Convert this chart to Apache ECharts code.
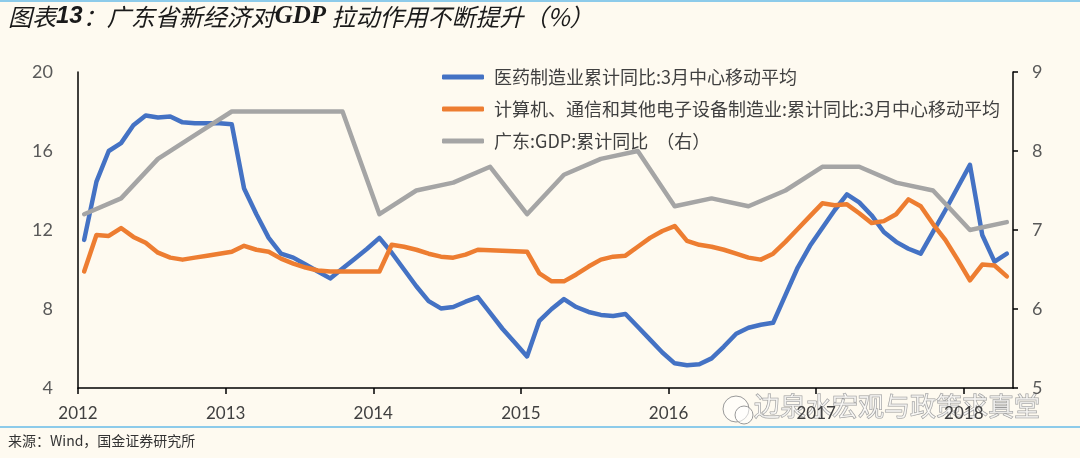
<!DOCTYPE html>
<html><head><meta charset="utf-8">
<script src="https://cdn.jsdelivr.net/npm/echarts@6/dist/echarts.min.js"></script>
<style>html,body{margin:0;padding:0;background:#fefaf0;}#c{width:1080px;height:458px;}</style>
</head><body><div id="c"></div>
<script>
// ---- data ----
const startYear = 2012, startMonth = 3, monthCount = 76; // monthly categories 2012-03 .. 2018-06
const yearLabels = ['2012','2013','2014','2015','2016','2017','2018'];
const pharma = [11.5,14.45,16.0,16.4,17.3,17.8,17.7,17.75,17.45,17.4,17.4,17.4,
  17.35,14.1,12.8,11.6,10.8,10.6,10.25,9.9,9.55,10.05,10.55,11.05,
  11.6,10.85,10.0,9.15,8.4,8.03,8.1,8.37,8.6,7.8,7.0,6.3,
  5.6,7.4,8.0,8.5,8.1,7.85,7.7,7.65,7.75,7.1,6.45,5.8,
  5.25,5.15,5.2,5.5,6.1,6.75,7.05,7.2,7.3,8.7,10.1,11.2,
  12.1,13.0,13.8,13.4,12.75,11.9,11.4,11.05,10.8,11.9,13.0,14.15,
  15.3,11.75,10.4,10.8];
const electronics = [9.9,11.75,11.7,12.1,11.65,11.35,10.85,10.6,10.5,10.6,10.7,10.8,
  10.9,11.2,11.0,10.9,10.55,10.3,10.1,9.95,9.9,9.9,9.9,9.9,
  9.9,11.25,11.15,11.0,10.8,10.65,10.6,10.75,11.0,10.98,10.95,10.93,
  10.9,9.8,9.4,9.4,9.75,10.15,10.5,10.65,10.7,11.15,11.6,11.95,
  12.2,11.45,11.25,11.15,11.0,10.8,10.6,10.5,10.8,11.4,12.05,12.7,
  13.35,13.25,13.3,12.85,12.35,12.45,12.8,13.55,13.2,12.3,11.5,10.5,
  9.45,10.25,10.2,9.65];
const gdpQuarters = ['2012-03','2012-06','2012-09','2012-12','2013-03','2013-06','2013-09','2013-12',
  '2014-03','2014-06','2014-09','2014-12','2015-03','2015-06','2015-09','2015-12',
  '2016-03','2016-06','2016-09','2016-12','2017-03','2017-06','2017-09','2017-12',
  '2018-03','2018-06'];
const gdp = [7.2,7.4,7.9,8.2, 8.5,8.5,8.5,8.5, 7.2,7.5,7.6,7.8, 7.2,7.7,7.9,8.0,
  7.3,7.4,7.3,7.5, 7.8,7.8,7.6,7.5, 7.0,7.1];
const seriesNames = ['医药制造业累计同比:3月中心移动平均',
  '计算机、通信和其他电子设备制造业:累计同比:3月中心移动平均',
  '广东:GDP:累计同比  （右）'];

const months = [];
for (let i = 0; i < monthCount; i++) {
  const m = startMonth - 1 + i;
  const y = startYear + Math.floor(m / 12);
  const mm = (m % 12) + 1;
  months.push(y + '-' + (mm < 10 ? '0' + mm : mm));
}

const chart = echarts.init(document.getElementById('c'), null, {renderer: 'canvas'});
const lineStyle = (c) => ({color: c, width: 4.5, cap: 'round', join: 'round'});
chart.setOption({
  backgroundColor: '#fefaf0',
  animation: false,
  grid: {left: 78, right: 67, top: 72, bottom: 70},
  legend: {
    orient: 'vertical', left: 437, top: 63, itemGap: 14,
    itemWidth: 42, itemHeight: 5, icon: 'roundRect',
    textStyle: {fontFamily: 'Noto Sans CJK SC', fontSize: 18, color: '#404040', padding: [0,0,0,5]},
    data: seriesNames
  },
  xAxis: [{
    type: 'category', data: months, boundaryGap: true,
    axisLine: {show: false}, axisTick: {show: false}, axisLabel: {show: false}
  }, {
    type: 'value', min: 0, max: monthCount, interval: 12, position: 'bottom',
    axisLine: {show: true, lineStyle: {color: '#000', width: 1.5}},
    axisTick: {show: true, inside: false, length: 6, lineStyle: {color: '#000', width: 1.5}},
    splitLine: {show: false},
    axisLabel: {
      margin: 17, color: '#404040', fontSize: 17, fontFamily: 'Liberation Sans Narrow, Lato, sans-serif',
      showMaxLabel: false,
      formatter: (v) => (v % 12 === 0 ? yearLabels[v / 12] || '' : '')
    }
  }],
  yAxis: [{
    type: 'value', min: 4, max: 20, interval: 4,
    axisLine: {show: true, lineStyle: {color: '#000', width: 1.5}},
    axisTick: {show: false}, splitLine: {show: false},
    axisLabel: {margin: 25, color: '#595959', fontSize: 18, fontFamily: 'Lato'}
  }, {
    type: 'value', min: 5, max: 9, interval: 1, position: 'right',
    axisLine: {show: true, lineStyle: {color: '#000', width: 1.5}},
    axisTick: {show: true, inside: false, length: 5, lineStyle: {color: '#000', width: 1.5}},
    splitLine: {show: false},
    axisLabel: {margin: 19, color: '#595959', fontSize: 18, fontFamily: 'Lato'}
  }],
  series: [{
    name: seriesNames[0], type: 'line', xAxisIndex: 0, yAxisIndex: 0,
    data: pharma, showSymbol: false, lineStyle: lineStyle('#4472C4'), itemStyle: {color: '#4472C4'}, z: 2
  }, {
    name: seriesNames[1], type: 'line', xAxisIndex: 0, yAxisIndex: 0,
    data: electronics, showSymbol: false, lineStyle: lineStyle('#ED7D31'), itemStyle: {color: '#ED7D31'}, z: 3
  }, {
    name: seriesNames[2], type: 'line', xAxisIndex: 0, yAxisIndex: 1,
    data: gdpQuarters.map((q, i) => [q, gdp[i]]), showSymbol: false,
    lineStyle: lineStyle('#A5A5A5'), itemStyle: {color: '#A5A5A5'}, z: 4
  }],
  graphic: [
    {type: 'rect', shape: {x: 0, y: 0, width: 1080, height: 2}, style: {fill: '#8dcbea'}, silent: true},
    {type: 'rect', shape: {x: 0, y: 426, width: 1080, height: 2}, style: {fill: '#8dcbea'}, silent: true},
    {type: 'text', left: 8, top: 4, silent: true, style: {
      text: '{a|图表}{b|13}{a|：广东省新经济对}{c|GDP}{a| 拉动作用不断提升（%）}',
      rich: {
        a: {fontFamily: 'Noto Sans CJK SC', fontStyle: 'italic', fontSize: 24, fill: '#1a1a1a'},
        b: {fontFamily: 'Liberation Sans', fontStyle: 'italic', fontWeight: 'bold', fontSize: 24, fill: '#1a1a1a'},
        c: {fontFamily: 'Liberation Serif', fontStyle: 'italic', fontWeight: 'bold', fontSize: 25, fill: '#1a1a1a'}
      }
    }},
    {type: 'text', left: 8, top: 434, silent: true, style: {
      text: '来源：Wind，国金证券研究所', fontFamily: 'Noto Sans CJK SC', fontSize: 14, fill: '#333'
    }},
    {type: 'group', silent: true, children: [
      {type: 'circle', shape: {cx: 736, cy: 409, r: 13}, style: {fill: 'rgba(255,255,255,0.55)', stroke: '#9a9a9a', lineWidth: 1}},
      {type: 'circle', shape: {cx: 744, cy: 415, r: 9}, style: {fill: 'rgba(255,255,255,0.55)', stroke: '#9a9a9a', lineWidth: 1}},
      {type: 'text', x: 754, y: 393, style: {
        text: '边泉水宏观与政策求真堂', fontFamily: 'Noto Sans CJK SC', fontSize: 26,
        fill: 'rgba(255,255,255,0.6)', stroke: '#9a9a9a', lineWidth: 1
      }}
    ]}
  ]
});
</script></body></html>
